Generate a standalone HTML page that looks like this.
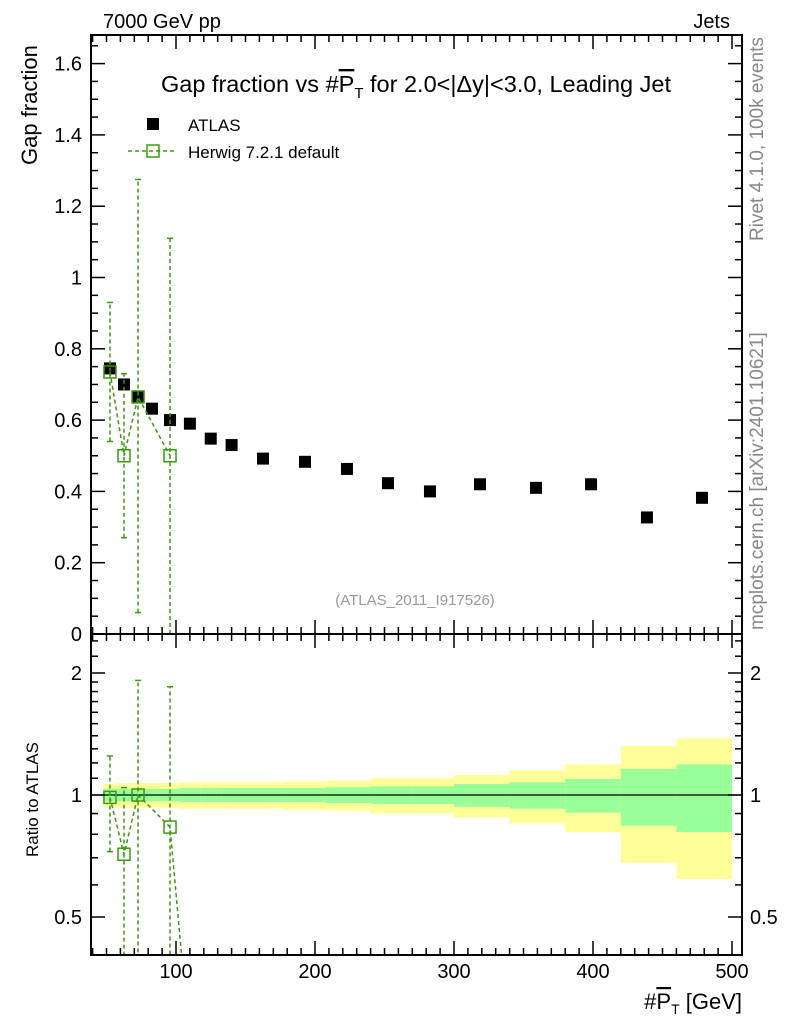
<!DOCTYPE html>
<html><head><meta charset="utf-8"><style>
html,body{margin:0;background:#fff;width:786px;height:1024px;overflow:hidden}
svg{display:block}
text{font-family:"Liberation Sans",sans-serif}
</style></head><body>
<svg id="c" width="786" height="1024" viewBox="0 0 786 1024" xmlns="http://www.w3.org/2000/svg">
<defs>
<clipPath id="cm"><rect x="91" y="35" width="651" height="599"/></clipPath>
<clipPath id="cr"><rect x="91" y="634" width="651" height="321"/></clipPath>
</defs>
<g id="bands" clip-path="url(#cr)"></g>
<g id="marks"></g>
<rect x="91" y="35" width="651" height="599" fill="none" stroke="#000" stroke-width="2"/>
<rect x="91" y="634" width="651" height="321" fill="none" stroke="#000" stroke-width="2"/>
<g id="ticks" stroke="#000" stroke-width="1.5"></g>
<g id="labels" font-size="20"></g>
<text x="103" y="28" font-size="20">7000 GeV pp</text>
<text x="730" y="28" font-size="20" text-anchor="end">Jets</text>
<text x="416" y="92" font-size="23.5" text-anchor="middle">Gap fraction vs #<tspan text-decoration="overline">P</tspan><tspan font-size="15" dy="6">T</tspan><tspan dy="-6"> for 2.0&lt;|Δy|&lt;3.0, Leading Jet</tspan></text>
<rect x="147" y="118" width="12" height="12" fill="#000"/>
<text x="188" y="131" font-size="17">ATLAS</text>
<line x1="128" y1="151" x2="176" y2="151" stroke="#3a9a10" stroke-dasharray="4,3" stroke-width="1.5"/>
<rect x="147" y="145" width="12" height="12" fill="none" stroke="#3a9a10" stroke-width="1.5"/>
<text x="188" y="158" font-size="17">Herwig 7.2.1 default</text>
<text transform="translate(37,165) rotate(-90)" font-size="22">Gap fraction</text>
<text transform="translate(38,857) rotate(-90)" font-size="17">Ratio to ATLAS</text>
<text transform="translate(763,241) rotate(-90)" font-size="19" fill="#888">Rivet 4.1.0,  100k events</text>
<text transform="translate(763,630) rotate(-90)" font-size="19" fill="#888">mcplots.cern.ch [arXiv:2401.10621]</text>
<text x="415" y="605" font-size="15" fill="#999" text-anchor="middle">(ATLAS_2011_I917526)</text>
<text x="742" y="1009" font-size="22" text-anchor="end">#<tspan text-decoration="overline">P</tspan><tspan font-size="14" dy="5">T</tspan><tspan dy="-5"> [GeV]</tspan></text>
</svg>
<script>
const atlasX=[52.5,62.6,72.7,82.7,95.7,110,125,140,162.6,192.8,223,252.5,282.7,318.7,359,398.6,438.8,478.4];
const atlasY=[0.745,0.70,0.665,0.632,0.60,0.59,0.548,0.53,0.492,0.483,0.463,0.423,0.40,0.42,0.41,0.42,0.327,0.382];
const binEdges=[47.5,57.5,67.5,77.5,87.5,102.5,117.5,132.5,150,177,208,240,270,300,340,380,420,460,500];
const relStat=[0.035,0.035,0.035,0.035,0.035,0.04,0.04,0.04,0.04,0.04,0.045,0.05,0.05,0.065,0.075,0.095,0.16,0.19];
const relTot=[0.065,0.07,0.07,0.07,0.07,0.075,0.075,0.075,0.075,0.08,0.085,0.1,0.1,0.12,0.15,0.19,0.32,0.38];
const hwX=[52.5,62.6,72.7,95.7];
const hwY=[0.735,0.5,0.665,0.5];
const hwLo=[0.54,0.27,0.06,0.0];
const hwHi=[0.93,0.73,1.275,1.11];
const hwRatioTailX=112, hwRatioTailY=0.2;
const xTicks=[100,200,300,400,500];
const yTicks=[0,0.2,0.4,0.6,0.8,1,1.2,1.4,1.6];
const yTickLabels=["0","0.2","0.4","0.6","0.8","1","1.2","1.4","1.6"];
const rTicks=[0.5,1,2];
const rTickLabels=["0.5","1","2"];

const NS="http://www.w3.org/2000/svg";
const X=v=>37+1.39*v;
const Y=v=>634-v*356.5;
const R=v=>795-122*Math.log2(v);
function mk(p,t,a){const e=document.createElementNS(NS,t);for(const k in a)e.setAttribute(k,a[k]);p.appendChild(e);return e;}
const bands=document.getElementById('bands'),marks=document.getElementById('marks'),ticks=document.getElementById('ticks'),labels=document.getElementById('labels');
const green="#3a9a10";
for(let i=0;i<atlasX.length;i++){
  const x0=X(binEdges[i]),x1=X(binEdges[i+1]);
  const y=mk(bands,'rect',{x:x0,y:R(1+relTot[i]),width:x1-x0,height:R(1-relTot[i])-R(1+relTot[i]),fill:'#ffff99'});
  
  
  const g=mk(bands,'rect',{x:x0,y:R(1+relStat[i]),width:x1-x0,height:R(1-relStat[i])-R(1+relStat[i]),fill:'#99ff99'});
  
  
}
const ln=mk(marks,'line',{x1:91,x2:742,y1:R(1),y2:R(1),stroke:'#000','stroke-width':1.3});


const gm=mk(marks,'g',{'clip-path':'url(#cm)'});
const gr=mk(marks,'g',{'clip-path':'url(#cr)'});
for(let i=0;i<atlasX.length;i++){
  const r=mk(gm,'rect',{x:X(atlasX[i])-6,y:Y(atlasY[i])-6,width:12,height:12,fill:'#000'});
  
  
}
let pts=hwX.map((x,i)=>X(x)+','+Y(hwY[i])).join(' ');
mk(gm,'polyline',{points:pts,fill:'none',stroke:green,'stroke-width':1.5,'stroke-dasharray':'4,3'});
const ratioOf=i=>{const j=atlasX.indexOf(hwX[i]);return hwY[i]/atlasY[j];};
const atAt=x=>atlasY[atlasX.indexOf(x)];
let rp=hwX.map((x,i)=>X(x)+','+R(ratioOf(i)));
rp.push(X(hwRatioTailX)+','+R(Math.max(hwRatioTailY,0.01)));
mk(gr,'polyline',{points:rp.join(' '),fill:'none',stroke:green,'stroke-width':1.5,'stroke-dasharray':'4,3'});
for(let i=0;i<hwX.length;i++){
  const x=X(hwX[i]);
  mk(gm,'line',{x1:x,x2:x,y1:Y(hwLo[i]),y2:Y(hwHi[i]),stroke:green,'stroke-width':1.5,'stroke-dasharray':'4,3'});
  mk(gm,'line',{x1:x-3,x2:x+3,y1:Y(hwHi[i]),y2:Y(hwHi[i]),stroke:green,'stroke-width':1.5});
  mk(gm,'line',{x1:x-3,x2:x+3,y1:Y(hwLo[i]),y2:Y(hwLo[i]),stroke:green,'stroke-width':1.5});
  const m=mk(gm,'rect',{x:x-6,y:Y(hwY[i])-6,width:12,height:12,fill:'none',stroke:green,'stroke-width':1.5});
  
  
  const a=atAt(hwX[i]);
  const lo=Math.max(hwLo[i]/a,0.01),hi=hwHi[i]/a;
  mk(gr,'line',{x1:x,x2:x,y1:R(lo),y2:R(hi),stroke:green,'stroke-width':1.5,'stroke-dasharray':'4,3'});
  mk(gr,'line',{x1:x-3,x2:x+3,y1:R(hi),y2:R(hi),stroke:green,'stroke-width':1.5});
  mk(gr,'line',{x1:x-3,x2:x+3,y1:R(lo),y2:R(lo),stroke:green,'stroke-width':1.5});
  const mr=mk(gr,'rect',{x:x-6,y:R(ratioOf(i))-6,width:12,height:12,fill:'none',stroke:green,'stroke-width':1.5});
  
  
}
for(let v=40;v<=500;v+=10){
  const x=X(v);const maj=v%100===0;const L=maj?14:7;
  mk(ticks,'line',{x1:x,x2:x,y1:634,y2:634-L});mk(ticks,'line',{x1:x,x2:x,y1:35,y2:35+L});
  mk(ticks,'line',{x1:x,x2:x,y1:955,y2:955-L});mk(ticks,'line',{x1:x,x2:x,y1:634,y2:634+L});
}
xTicks.forEach(v=>{const t=mk(labels,'text',{x:X(v),y:978,'text-anchor':'middle'});t.textContent=v;
  
  });
for(let k=0;k<=33;k++){const v=k*0.05;const y=Y(v);if(y<35)break;const maj=k%4===0;const L=maj?14:7;
  mk(ticks,'line',{x1:91,x2:91+L,y1:y,y2:y});mk(ticks,'line',{x1:742,x2:742-L,y1:y,y2:y});}
yTicks.forEach((v,i)=>{const t=mk(labels,'text',{x:82,y:Y(v)+7,'text-anchor':'end'});t.textContent=yTickLabels[i];
  
  });
[0.4,0.5,0.6,0.7,0.8,0.9,1,1.1,1.2,1.3,1.4,1.5,1.6,1.7,1.8,1.9,2,2.2,2.4].forEach(v=>{const y=R(v);if(y<634||y>955)return;
  const maj=rTicks.includes(v);const L=maj?14:7;
  mk(ticks,'line',{x1:91,x2:91+L,y1:y,y2:y});mk(ticks,'line',{x1:742,x2:742-L,y1:y,y2:y});});
rTicks.forEach((v,i)=>{const a=mk(labels,'text',{x:82,y:R(v)+7,'text-anchor':'end'});a.textContent=rTickLabels[i];
  
  
  const b=mk(labels,'text',{x:750,y:R(v)+7});b.textContent=rTickLabels[i];
  
  });
</script>
</body></html>
